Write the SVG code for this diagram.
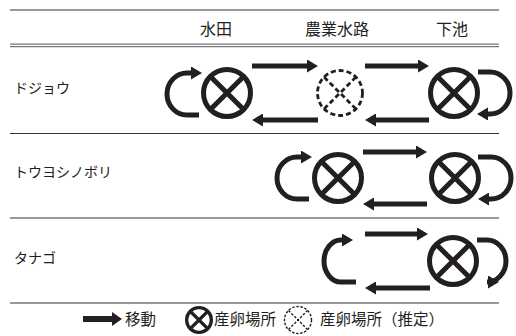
<svg xmlns="http://www.w3.org/2000/svg" width="516" height="336" viewBox="0 0 516 336">
<style>
text{font-family:"Noto Sans CJK JP","Noto Sans",sans-serif;fill:#231f20}
.hd{font-size:16px;text-anchor:middle}
.lb{font-size:14px}
.lg{font-size:15.5px}
.sp{fill:none;stroke:#231f20;stroke-width:5}
.sx{stroke:#231f20;stroke-width:5}
.ds{fill:none;stroke:#231f20;stroke-width:2.8;stroke-dasharray:5 3}
.ar{fill:none;stroke:#231f20;stroke-width:5}
.rule{stroke:#333;stroke-width:1.2}
</style>
<defs>
<marker id="ah" viewBox="0 0 11 13" refX="0" refY="6.5" markerWidth="11" markerHeight="13" markerUnits="userSpaceOnUse" orient="auto"><path d="M0,0 L11,6.5 L0,13 Z" fill="#231f20"/></marker>
<marker id="ahl" viewBox="0 0 10 14" refX="0" refY="7" markerWidth="10" markerHeight="14" markerUnits="userSpaceOnUse" orient="auto"><path d="M0,0 L10,7 L0,14 Z" fill="#231f20"/></marker>
<g id="spawn"><circle r="23.5" class="sp"/><line x1="-16.6" y1="-16.6" x2="16.6" y2="16.6" class="sx"/><line x1="-16.6" y1="16.6" x2="16.6" y2="-16.6" class="sx"/></g>
<g id="spawnq"><circle r="22.5" class="ds"/><line x1="-15.9" y1="-15.9" x2="15.9" y2="15.9" class="ds"/><line x1="-15.9" y1="15.9" x2="15.9" y2="-15.9" class="ds"/></g>
</defs>

<g id="table">
<line x1="10" y1="10" x2="499" y2="10" stroke="#777" stroke-width="1.3"/>
<line x1="10" y1="44.2" x2="499" y2="44.2" stroke="#777" stroke-width="1.3"/>
<line x1="10" y1="46.6" x2="499" y2="46.6" stroke="#777" stroke-width="1.3"/>
<line x1="10" y1="133.5" x2="499" y2="133.5" class="rule"/>
<line x1="10" y1="218" x2="499" y2="218" class="rule"/>
<line x1="10" y1="303" x2="499" y2="303" class="rule"/>
</g>

<g id="header">
<text class="hd" x="216" y="35">水田</text>
<text class="hd" x="337" y="35">農業水路</text>
<text class="hd" x="452" y="35">下池</text>
</g>

<g id="labels">
<text class="lb" x="14" y="93">ドジョウ</text>
<text class="lb" x="14" y="177">トウヨシノボリ</text>
<text class="lb" x="14" y="263">タナゴ</text>
</g>

<g id="row-dojou">
<use href="#spawn" x="227" y="93"/>
<use href="#spawnq" x="340" y="93"/>
<use href="#spawn" x="454" y="93"/>
</g>
<g id="row-touyoshinobori">
<use href="#spawn" x="338" y="178"/>
<use href="#spawn" x="455" y="178"/>
</g>
<g id="row-tanago">
<use href="#spawn" x="453" y="261"/>
</g>

<g id="connectors">
<path class="ar" d="M199 115 L187 115 A20 21 0 0 1 187 73 L191 73" marker-end="url(#ah)"/>
<path class="ar" d="M252 66 L307 66" marker-end="url(#ah)"/>
<path class="ar" d="M318 120 L263 120" marker-end="url(#ah)"/>
<path class="ar" d="M365 66 L418 66" marker-end="url(#ah)"/>
<path class="ar" d="M429 120 L376 120" marker-end="url(#ah)"/>
<path class="ar" d="M478 72 L490 72 A20 21 0 0 1 490 114 L488 114" marker-end="url(#ah)"/>
<path class="ar" d="M309 199 L297 199 A20 21 0 0 1 297 157 L301 157" marker-end="url(#ah)"/>
<path class="ar" d="M363 152 L416 152" marker-end="url(#ah)"/>
<path class="ar" d="M427 204 L374 204" marker-end="url(#ah)"/>
<path class="ar" d="M478 157 L491 157 A20 21 0 0 1 491 199 L489 199" marker-end="url(#ah)"/>
<path class="ar" d="M356 282 L341 282 A17 21 0 0 1 341 240 L342 240" marker-end="url(#ah)"/>
<path class="ar" d="M365 234 L417 234" marker-end="url(#ah)"/>
<path class="ar" d="M430 288 L376 288" marker-end="url(#ah)"/>
<path class="ar" d="M477 240 L487 240 A19 21 0 0 1 487 282 L488 282" marker-end="url(#ah)"/>
</g>

<g id="legend">
<path d="M83 319 L112 319" fill="none" stroke="#231f20" stroke-width="6" marker-end="url(#ahl)"/>
<text class="lg" x="125" y="325">移動</text>
<g transform="translate(199 320) scale(0.56)"><circle r="22" fill="none" stroke="#231f20" stroke-width="6"/><line x1="-15.5" y1="-15.5" x2="15.5" y2="15.5" stroke="#231f20" stroke-width="6"/><line x1="-15.5" y1="15.5" x2="15.5" y2="-15.5" stroke="#231f20" stroke-width="6"/></g>
<text class="lg" x="214" y="325">産卵場所</text>
<g transform="translate(298 320)"><circle r="13.5" fill="none" stroke="#231f20" stroke-width="1.4" stroke-dasharray="2.5 1.6"/><line x1="-9.5" y1="-9.5" x2="9.5" y2="9.5" stroke="#231f20" stroke-width="1.4" stroke-dasharray="2.5 1.6"/><line x1="-9.5" y1="9.5" x2="9.5" y2="-9.5" stroke="#231f20" stroke-width="1.4" stroke-dasharray="2.5 1.6"/></g>
<text class="lg" x="320" y="325">産卵場所（推定）</text>
</g>
</svg>
